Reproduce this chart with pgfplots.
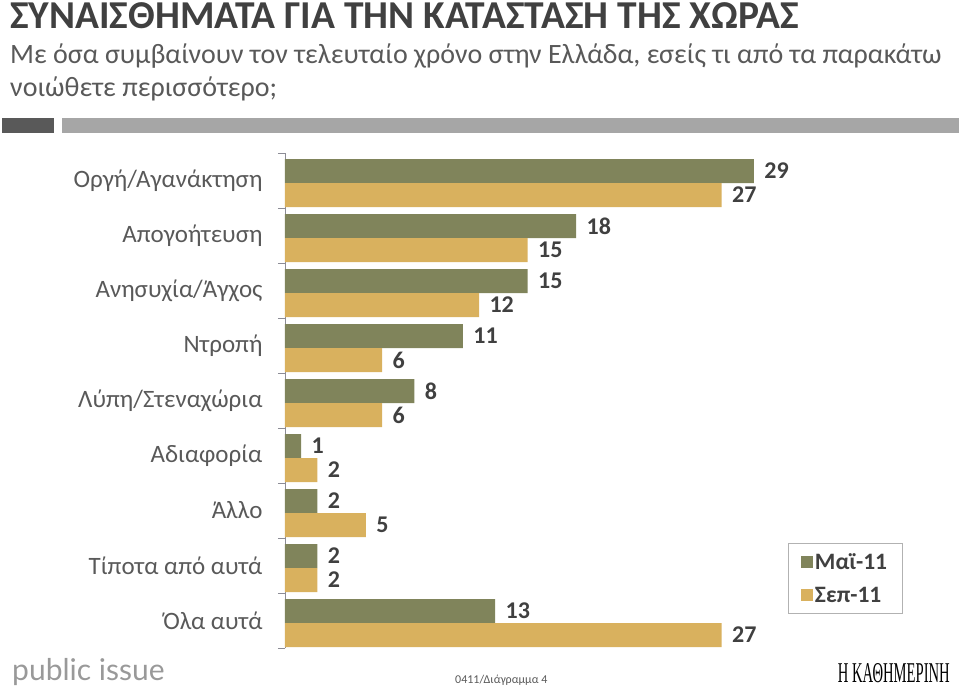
\documentclass[border=0pt]{standalone}
\usepackage{fontspec}
\setmainfont{Carlito}
\newfontfamily\logofont{Lato}
\newfontfamily\seriflogo{Liberation Serif}
\usepackage{graphicx}
\usepackage{pgfplots}
\pgfplotsset{compat=1.18}
\definecolor{maicol}{RGB}{128,132,91}
\definecolor{sepcol}{RGB}{217,177,94}
\definecolor{txtdark}{RGB}{64,64,64}
\definecolor{txtgray}{RGB}{89,89,89}
\definecolor{barlight}{RGB}{166,166,166}
\definecolor{axcol}{RGB}{140,140,150}

\begin{document}
\begin{tikzpicture}
\useasboundingbox (0pt,0pt) rectangle (959pt,-689pt);
\begin{scope}[x=1pt,y=-1pt]
  % title block
  \node[anchor=base west, inner sep=0pt, text=txtdark,
        font=\fontsize{39.5}{44}\selectfont\bfseries] at (10,28)
    {ΣΥΝΑΙΣΘΗΜΑΤΑ ΓΙΑ ΤΗΝ ΚΑΤΑΣΤΑΣΗ ΤΗΣ ΧΩΡΑΣ};
  \node[anchor=base west, inner sep=0pt, text=txtgray,
        font=\fontsize{28}{32}\selectfont] at (10,63)
    {Με όσα συμβαίνουν τον τελευταίο χρόνο στην Ελλάδα, εσείς τι από τα παρακάτω};
  \node[anchor=base west, inner sep=0pt, text=txtgray,
        font=\fontsize{28}{32}\selectfont] at (10,96)
    {νοιώθετε περισσότερο;};
  \fill[txtgray] (2,118) rectangle (54,133);
  \fill[barlight] (62,118) rectangle (959,133);
  % footer
  \node[anchor=base west, inner sep=0pt, text=black!40,
        font=\fontsize{30}{34}\selectfont\logofont] at (12,680) {public issue};
  \node[anchor=base west, inner sep=0pt, text=txtgray,
        font=\fontsize{12}{14}\selectfont] at (455,683) {0411/Διάγραμμα 4};
  \node[anchor=south east, inner sep=1pt] at (951,684)
    {\resizebox{112pt}{19pt}{\seriflogo Η ΚΑΘΗΜΕΡΙΝΗ}};
\end{scope}

\begin{axis}[
  at={(285pt,-648pt)}, anchor=south west,
  x=16.17pt, y=55pt,
  xmin=0, xmax=40, ymin=-0.5, ymax=8.5,
  xbar, bar width=24pt,
  axis x line=none, axis y line*=left,
  axis line style={draw=axcol, line width=0.8pt, -},
  ytick={0,...,8},
  yticklabels={Όλα αυτά, Τίποτα από αυτά, Άλλο, Αδιαφορία, Λύπη/Στεναχώρια, Ντροπή, Ανησυχία/Άγχος, Απογοήτευση, Οργή/Αγανάκτηση},
  major tick length=0pt,
  minor ytick={-0.5,0.5,...,8.5},
  minor tick length=7pt,
  tick align=outside,
  minor tick style={draw=axcol, line width=0.8pt},
  yticklabel style={font=\fontsize{25}{30}\selectfont, text=txtgray, xshift=-19pt},
  /pgf/number format/assume math mode=true,
  point meta=x,
  nodes near coords,
  nodes near coords style={font=\fontsize{24}{28}\selectfont\bfseries, text=txtdark, xshift=7pt},
  legend image code/.code={\fill[#1] (0pt,-6pt) rectangle (12pt,6pt);},
  legend style={at={(0.777,0.212)}, anchor=north west, draw=gray!60, line width=0.8pt,
    font=\fontsize{23.5}{27}\selectfont\bfseries, text=txtdark,
    inner xsep=13pt, inner ysep=8pt, row sep=12pt, cells={anchor=west}},
]
\addplot[fill=maicol, draw=none, bar shift=9.5pt] coordinates {
  (29,8) (18,7) (15,6) (11,5) (8,4) (1,3) (2,2) (2,1) (13,0)};
\addplot[fill=sepcol, draw=none, bar shift=-14.5pt] coordinates {
  (27,8) (15,7) (12,6) (6,5) (6,4) (2,3) (5,2) (2,1) (27,0)};
\legend{Μαϊ-11, Σεπ-11}
\end{axis}
\end{tikzpicture}
\end{document}
